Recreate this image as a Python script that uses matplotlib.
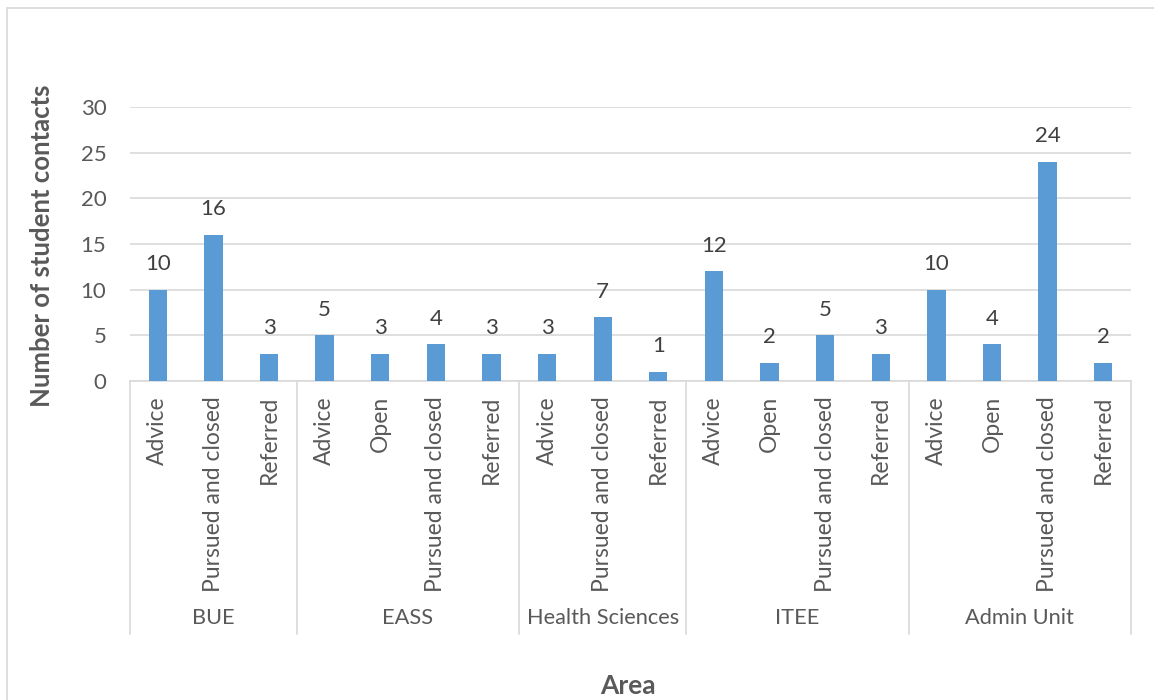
import matplotlib.pyplot as plt
from matplotlib.patches import Rectangle
import matplotlib.transforms as mtransforms

# ── data ────────────────────────────────────────────
areas = ["BUE", "EASS", "Health Sciences", "ITEE", "Admin Unit"]
outcomes = [
    ["Advice", "Pursued and closed", "Referred"],
    ["Advice", "Open", "Pursued and closed", "Referred"],
    ["Advice", "Pursued and closed", "Referred"],
    ["Advice", "Open", "Pursued and closed", "Referred"],
    ["Advice", "Open", "Pursued and closed", "Referred"],
]
counts = [
    [10, 16, 3],
    [5, 3, 4, 3],
    [3, 7, 1],
    [12, 2, 5, 3],
    [10, 4, 24, 2],
]

BAR = "#5B9BD5"
TXT = "#595959"
GRID = "#D9D9D9"

plt.rcParams["font.family"] = ["Lato", "DejaVu Sans"]

fig = plt.figure(figsize=(11.54, 7.0), dpi=100)
W, H = 1154, 700
ax = fig.add_axes([130 / W, 1 - 381 / H, (1131 - 130) / W, (381 - 107) / H])

labels, values = [], []
for subs, vals in zip(outcomes, counts):
    labels += subs
    values += vals
x = list(range(len(values)))

ax.bar(x, values, width=0.33, color=BAR, zorder=3)
for xi, v in zip(x, values):
    ax.text(xi, v + 1.7, str(v), ha="center", va="bottom", fontsize=16, color="#404040")

ax.set_xlim(-0.5, len(values) - 0.5)
ax.set_ylim(0, 30)
ax.set_yticks(range(0, 31, 5))
ax.tick_params(axis="y", length=0, labelsize=16, labelcolor=TXT, pad=17)
ax.set_xticks([])
ax.grid(axis="y", color=GRID, linewidth=1.2, zorder=0)
for s in ["top", "right", "left"]:
    ax.spines[s].set_visible(False)
ax.spines["bottom"].set_color(GRID)
ax.spines["bottom"].set_linewidth(1.2)

# multi-level category axis
trans = mtransforms.blended_transform_factory(ax.transData, ax.transAxes)
y_sub = -15 / 274
y_grp = -(618 - 381) / 274
y_end = -(634 - 381) / 274
for xi, lab in zip(x, labels):
    ax.text(xi, y_sub, lab, transform=trans, rotation=90, ha="center", va="top",
            fontsize=16.5, color=TXT)

start = 0
bounds = [-0.5]
for area, subs in zip(areas, outcomes):
    n = len(subs)
    ax.text(start + (n - 1) / 2, y_grp, area, transform=trans, ha="center", va="center",
            fontsize=15.7, color=TXT)
    start += n
    bounds.append(start - 0.5)
for b in bounds:
    ax.plot([b, b], [0, y_end], transform=trans, color=GRID, linewidth=1.2, clip_on=False)

fig.text(628 / W, 1 - 686 / H, "Area", ha="center", va="center", fontsize=19,
         fontweight="bold", color=TXT)
fig.text(42 / W, 1 - 246 / H, "Number of student contacts", ha="center", va="center",
         rotation=90, fontsize=18.5, fontweight="bold", color=TXT)

# chart-area border (only left/top visible in the crop)
fig.patches.append(Rectangle((7 / W, -0.1), 1.2, 1 - 8 / H + 0.1, transform=fig.transFigure,
                             fill=False, edgecolor=GRID, linewidth=1.2))

fig.savefig("out.png", dpi=100)
